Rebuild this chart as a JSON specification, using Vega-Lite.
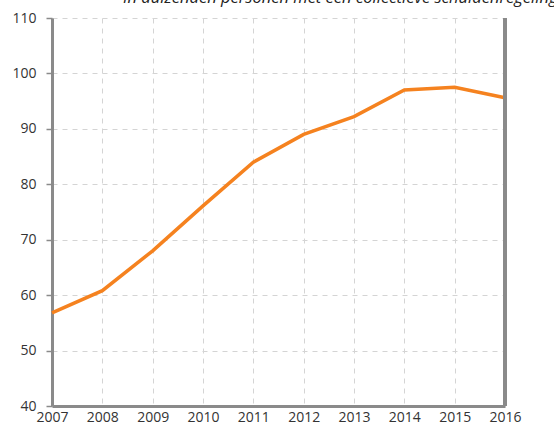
{
  "$schema": "https://vega.github.io/schema/vega-lite/v6.json",
  "autosize": "none",
  "width": 453,
  "height": 388,
  "padding": {"left": 52, "top": 18, "right": 49, "bottom": 17},
  "background": "white",
  "title": {
    "text": "In duizenden personen met een collectieve schuldenregeling",
    "anchor": "start",
    "frame": "group",
    "dx": 71,
    "offset": 0,
    "dy": 8,
    "baseline": "alphabetic",
    "font": "Open Sans",
    "fontStyle": "italic",
    "fontWeight": "normal",
    "fontSize": 16.5,
    "color": "#222"
  },
  "config": {
    "view": {"stroke": null},
    "axis": {
      "labelFont": "Open Sans",
      "labelFontSize": 14,
      "labelColor": "#333",
      "domainColor": "#8a8a8a",
      "domainWidth": 3,
      "tickColor": "#8a8a8a",
      "tickWidth": 1.5,
      "gridColor": "#d4d4d4",
      "gridDash": [5, 5],
      "gridWidth": 1,
      "title": null
    }
  },
  "data": {
    "values": [
      {"jaar": 2007, "waarde": 56.8},
      {"jaar": 2008, "waarde": 60.8},
      {"jaar": 2009, "waarde": 68.0},
      {"jaar": 2010, "waarde": 76.1},
      {"jaar": 2011, "waarde": 84.0},
      {"jaar": 2012, "waarde": 89.0},
      {"jaar": 2013, "waarde": 92.2},
      {"jaar": 2014, "waarde": 97.0},
      {"jaar": 2015, "waarde": 97.5},
      {"jaar": 2016, "waarde": 95.6}
    ]
  },
  "layer": [
    {
      "mark": {"type": "line", "color": "#f5821f", "strokeWidth": 3.5},
      "encoding": {
        "x": {
          "field": "jaar",
          "type": "quantitative",
          "scale": {"domain": [2007, 2016], "nice": false, "zero": false},
          "axis": {
            "values": [2007, 2008, 2009, 2010, 2011, 2012, 2013, 2014, 2015, 2016],
            "format": "d",
            "ticks": false,
            "labelPadding": 4,
            "labelFlush": false,
            "labelOverlap": false
          }
        },
        "y": {
          "field": "waarde",
          "type": "quantitative",
          "scale": {"domain": [40, 110], "nice": false, "zero": false},
          "axis": {
            "values": [40, 50, 60, 70, 80, 90, 100, 110],
            "tickSize": 6,
            "labelPadding": 10,
            "labelFlush": false,
            "labelOverlap": false
          }
        }
      }
    },
    {
      "mark": {"type": "rule", "color": "#8a8a8a", "strokeWidth": 3},
      "encoding": {"x": {"datum": 2016}}
    }
  ]
}
